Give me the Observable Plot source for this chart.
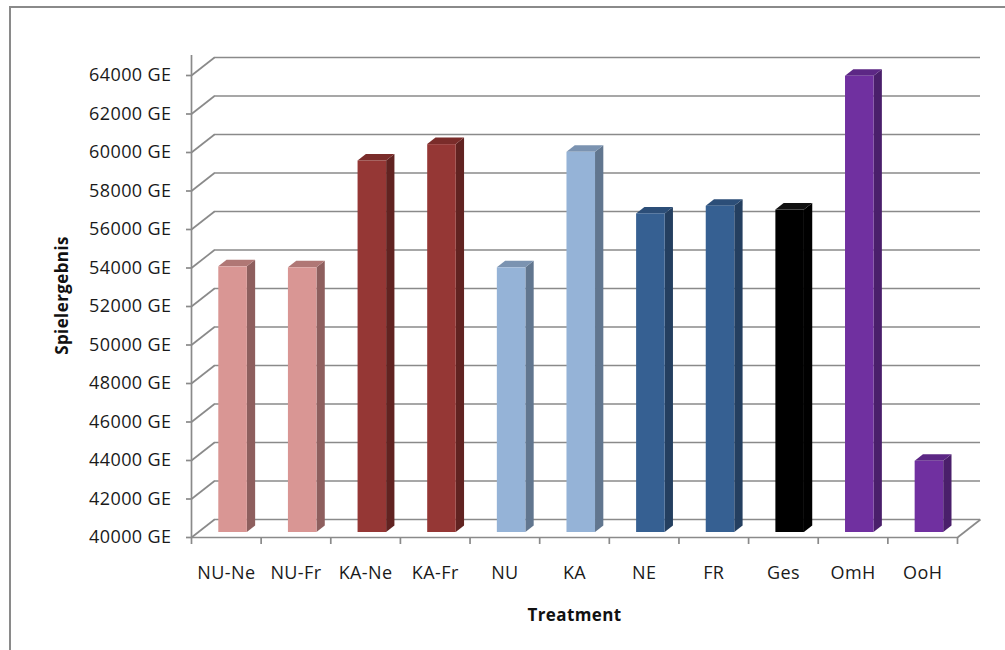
<!DOCTYPE html>
<html><head><meta charset="utf-8">
<script src="https://cdn.jsdelivr.net/npm/d3@7"></script>
<script src="https://cdn.jsdelivr.net/npm/@observablehq/plot@0.6"></script>
<style>
body{margin:0;background:#fff;}
#wrap{position:relative;width:1005px;height:650px;overflow:hidden;background:#fff;}
#border{position:absolute;left:9px;top:6px;width:1100px;height:700px;border-left:2px solid #8a8a8a;border-top:2px solid #8a8a8a;}
#chart svg{position:absolute;left:0;top:0;}
#chart svg text{letter-spacing:0.4px;}
</style></head><body><div id="wrap"><div id="border"></div><div id="chart"></div></div>
<script>
const categories = ["NU-Ne","NU-Fr","KA-Ne","KA-Fr","NU","KA","NE","FR","Ges","OmH","OoH"];
const values = [53800,53750,59300,60150,53750,59750,56550,56950,56750,63700,43700];
const frontColors = ["#D99694","#D99694","#953735","#953735","#95B3D7","#95B3D7","#366092","#366092","#000000","#7030A0","#7030A0"];
const sideColors  = ["#8E5F5E","#8E5F5E","#612321","#612321","#61768F","#61768F","#243F60","#243F60","#000000","#4A1F6B","#4A1F6B"];
const topColors   = ["#B07775","#B07775","#7A2C2A","#7A2C2A","#7B93B1","#7B93B1","#2C4E78","#2C4E78","#111111","#5C2785","#5C2785"];
const yTicks = [40000,42000,44000,46000,48000,50000,52000,54000,56000,58000,60000,62000,64000];
const yUnit = " GE";
const xTitle = "Treatment";
const yTitle = "Spielergebnis";

// layout
const W = 1005, H = 650, ML = 191, MR = 48, MT = 75, MB = 113;
const yMin = yTicks[0], yMax = yTicks[yTicks.length - 1];
const n = categories.length;
const pxX = (W - ML - MR) / n;
const pxY = (H - MT - MB) / (yMax - yMin);
// 3D depth of the whole plot (pixels → data units)
const DX = 23 / pxX, DY = 18 / pxY;
// bar front offset and bar depth
const FX = 6.4 / pxX, FY = 5 / pxY;
const BX = 8.3 / pxX, BY = 6.5 / pxY;
const A = 0.30, B = 0.71;

const bars = categories.map((c, i) => ({
  c, i, v: values[i], front: frontColors[i], side: sideColors[i], top: topColors[i],
  x1: i + A + FX, x2: i + B + FX, base: yMin + FY, yv: values[i] + FY
}));
const sidePts = bars.flatMap(b => [
  {c: b.c, fill: b.side, x: b.x2, y1: b.base, y2: b.yv},
  {c: b.c, fill: b.side, x: b.x2 + BX, y1: b.base + BY, y2: b.yv + BY}
]);
const topPts = bars.flatMap(b => [
  {c: b.c, fill: b.top, y: b.yv, x1: b.x1, x2: b.x2},
  {c: b.c, fill: b.top, y: b.yv + BY, x1: b.x1 + BX, x2: b.x2 + BX}
]);
const xTicks = d3.range(0, n + 1);
const gray = "#8a8a8a";

const chart = Plot.plot({
  width: W, height: H,
  marginLeft: ML, marginRight: MR, marginTop: MT, marginBottom: MB,
  x: {domain: [0, n], axis: null},
  y: {domain: [yMin, yMax]},
  color: {type: "identity"},
  style: {fontFamily: "'Open Sans', sans-serif", fontSize: "18px", color: "#1a1a1a", background: "transparent", overflow: "visible"},
  marks: [
    // back wall gridlines
    Plot.ruleY(yTicks, {x1: DX, x2: n + DX, y: d => d + DY, stroke: gray, strokeWidth: 1.7}),
    // side wall connectors
    Plot.link(yTicks, {x1: 0, y1: d => d, x2: DX, y2: d => d + DY, stroke: gray, strokeWidth: 1.7}),
    // floor front edge and right edge
    Plot.ruleY([yMin], {x1: 0, x2: n, stroke: gray, strokeWidth: 1.7}),
    Plot.link([yMin], {x1: n, y1: d => d, x2: n + DX, y2: d => d + DY, stroke: gray, strokeWidth: 1.7}),
    // x ticks
    Plot.ruleX(xTicks, {y1: yMin, y2: yMin - 7 / pxY, stroke: gray, strokeWidth: 1.7}),
    // vertical axis line
    Plot.ruleX([0], {y1: yMin, y2: yMax + 20 / pxY, stroke: gray, strokeWidth: 1.7}),
    Plot.axisY(yTicks, {tickSize: 5, tickPadding: 15, tickFormat: d => `${d}${yUnit}`, stroke: gray, strokeWidth: 1.7, label: null, fontSize: 18}),
    // bars
    Plot.areaY(sidePts, {x: "x", y1: "y1", y2: "y2", z: "c", fill: "fill"}),
    Plot.areaX(topPts, {y: "y", x1: "x1", x2: "x2", z: "c", fill: "fill"}),
    Plot.rect(bars, {x1: "x1", x2: "x2", y1: "base", y2: "yv", fill: "front"}),
    // category labels
    Plot.text(bars, {x: d => d.i + 0.5, y: yMin, text: "c", dy: 36, fontSize: 18, fill: "#1a1a1a"}),
    // titles
    Plot.text([xTitle], {frameAnchor: "bottom", lineAnchor: "middle", textAnchor: "middle", text: d => d, dy: 78, fontWeight: "bold", fontSize: 17, fill: "#111"}),
    Plot.text([yTitle], {frameAnchor: "left", lineAnchor: "middle", textAnchor: "middle", text: d => d, dx: -129, dy: -11, rotate: -90, fontWeight: "bold", fontSize: 17, fill: "#111"})
  ]
});
document.getElementById("chart").appendChild(chart);
</script>
</body></html>
